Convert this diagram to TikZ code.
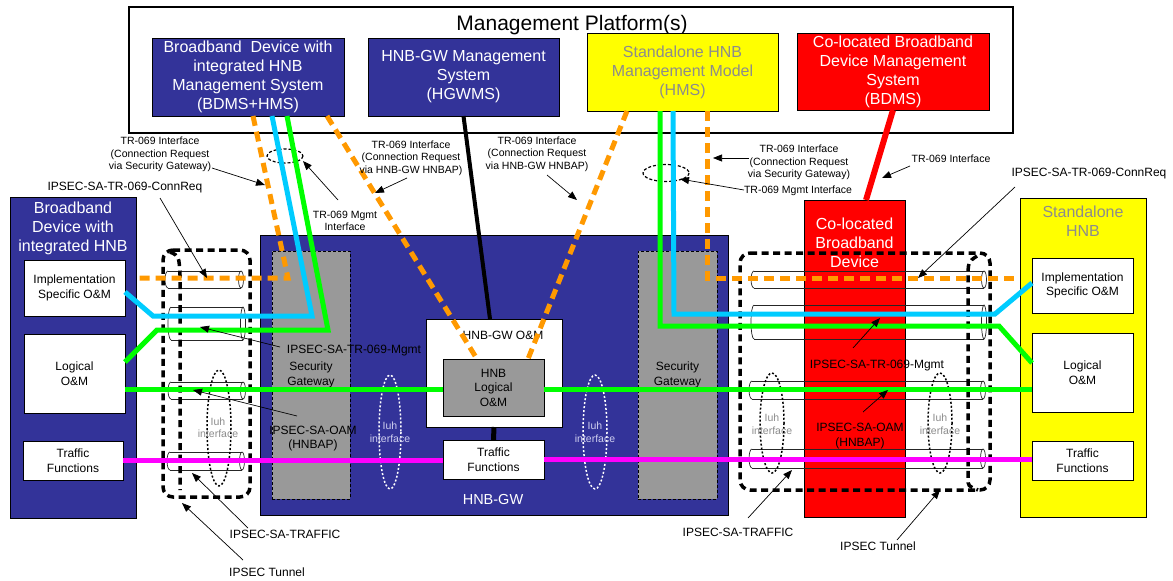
\documentclass[tikz,border=0pt]{standalone}
\usepackage{fontspec}
\setmainfont{Liberation Sans}
\usetikzlibrary{arrows.meta,calc}
\definecolor{cBl}{HTML}{333399}
\definecolor{cOr}{HTML}{FF9900}
\definecolor{cCy}{HTML}{00CCFF}
\definecolor{cGr}{HTML}{00FF00}
\definecolor{cMg}{HTML}{FF00FF}
\definecolor{cRd}{HTML}{FF0000}
\definecolor{cYe}{HTML}{FFFF00}
\definecolor{cGb}{HTML}{999999}
\definecolor{cGt}{HTML}{8C8C8C}
\definecolor{cIw}{HTML}{D0D0F0}
\newcommand{\mytube}[4]{%
  \draw[tubeln] (#1+3,#3-#4) -- (#2,#3-#4) (#1+3,#3+#4) -- (#2,#3+#4);
  \draw[tubeln] (#1+3,#3-#4) arc[start angle=270,end angle=90,x radius=3,y radius=#4];
  \draw[tubeln] (#2,#3) ellipse (2.5 and #4);}
\begin{document}
\begin{tikzpicture}[x=1pt,y=-1pt,
  bx/.style={draw=black, line width=0.8pt, inner sep=0pt, outer sep=0pt, align=center},
  fttl/.style={font=\fontsize{21}{25}\selectfont},
  fbig/.style={font=\fontsize{16}{19}\selectfont},
  fmid/.style={font=\fontsize{12}{14.5}\selectfont},
  fhg/.style={font=\fontsize{14.5}{17}\selectfont},
  fsm/.style={font=\fontsize{10.5}{12.5}\selectfont},
  lbl/.style={inner sep=0pt, align=center},
  ann/.style={draw=black, line width=0.7pt, -{Triangle[length=9pt,width=7pt]}},
  odash/.style={draw=cOr, line width=5pt, dash pattern=on 10pt off 6pt},
  cline/.style={draw=cCy, line width=5pt},
  gline/.style={draw=cGr, line width=5pt},
  mline/.style={draw=cMg, line width=5pt},
  tun/.style={draw=black, line width=3.5pt, dash pattern=on 7pt off 4.5pt},
  tubeln/.style={draw=black!85, line width=0.7pt},
  iuhd/.style={draw=black, line width=1.5pt, dash pattern=on 2pt off 2pt},
  iuhw/.style={draw=white, line width=1.5pt, dash pattern=on 2pt off 2pt},
  tinyel/.style={draw=black, line width=1.2pt, dash pattern=on 3pt off 2pt},
]
\useasboundingbox (0,0) rectangle (1173,581);
\fill[white] (0,0) rectangle (1173,581);

% Management platform
\node[bx, line width=2pt, minimum width=884pt, minimum height=126pt] (mgmt) at (571,70) {};
\node[lbl, fttl] (mtitle) at (572,25) {Management Platform(s)};
\node[bx, fill=cBl, text=white, fbig, minimum width=192pt, minimum height=78pt] (bdmshms) at (248,77)
  {Broadband~ Device with\\integrated HNB\\Management System\\(BDMS+HMS)};
\node[bx, fill=cBl, text=white, fbig, minimum width=191pt, minimum height=78pt] (hgwms) at (463.5,77)
  {HNB-GW Management\\System\\(HGWMS)};
\node[bx, fill=cYe, text=cGt, fbig, minimum width=191pt, minimum height=78pt] (hms) at (682.5,72)
  {Standalone HNB\\Management Model\\(HMS)};
\node[bx, fill=cRd, text=white, fbig, minimum width=192pt, minimum height=77pt] (bdms) at (893,71.5)
  {Co-located Broadband\\Device Management\\System\\(BDMS)};

% Left device
\node[bx, fill=cBl, minimum width=126pt, minimum height=321pt] (leftdev) at (73,357.5) {};
\node[lbl, fbig, text=white] (leftdevt) at (73,228) {Broadband\\Device with\\integrated HNB};
\node[bx, fill=white, fmid, minimum width=101pt, minimum height=56pt] (implL) at (74.5,288) {Implementation\\Specific O\&M};
\node[bx, fill=white, fmid, minimum width=101pt, minimum height=79pt] (logL) at (74.5,373.5) {Logical\\O\&M};
\node[bx, fill=white, fmid, minimum width=100pt, minimum height=39pt] (trafL) at (73,460.5) {Traffic\\Functions};

% HNB-GW
\node[bx, fill=cBl, minimum width=468pt, minimum height=280pt] (hnbgw) at (494,375) {};
\node[lbl, fhg, text=white] (hnbgwt) at (493,500) {HNB-GW};
\node[bx, fill=cGb, densely dashed, line width=0.6pt, fmid, minimum width=78pt, minimum height=248pt] (sgL) at (311,375) {Security\\Gateway};
\node[bx, fill=cGb, densely dashed, line width=0.6pt, fmid, minimum width=79pt, minimum height=248pt] (sgR) at (677.5,375) {Security\\Gateway};
\node[bx, fill=white, minimum width=136pt, minimum height=108pt] (hnbgwom) at (494,373) {};
\node[lbl, fmid] (hnbgwomt) at (503,335) {HNB-GW O\&M};
\node[bx, fill=cGb, fmid, minimum width=101pt, minimum height=57pt] (hnblog) at (493.5,387.5) {HNB\\Logical\\O\&M};
\node[bx, fill=white, fmid, minimum width=101pt, minimum height=39pt] (trafM) at (493.5,459.5) {Traffic\\Functions};

% Co-located broadband device
\node[bx, fill=cRd, minimum width=101pt, minimum height=317pt] (codev) at (854.5,358.5) {};
\node[lbl, fbig, text=white] (codevt) at (854.5,243) {Co-located\\Broadband\\Device};

% Standalone HNB
\node[bx, fill=cYe, minimum width=126pt, minimum height=319pt] (sahnb) at (1083,357.5) {};
\node[lbl, fbig, text=cGt] (sahnbt) at (1083,221.5) {Standalone\\HNB};
\node[bx, fill=white, fmid, minimum width=101pt, minimum height=55pt] (implR) at (1082.5,285.5) {Implementation\\Specific O\&M};
\node[bx, fill=white, fmid, minimum width=101pt, minimum height=79pt] (logR) at (1082.5,372.5) {Logical\\O\&M};
\node[bx, fill=white, fmid, minimum width=101pt, minimum height=39pt] (trafR) at (1082.5,460.5) {Traffic\\Functions};

% tubes (security associations)
\mytube{165}{241}{279.5}{8.5}
\mytube{168}{243}{323.5}{16.5}
\mytube{168}{243}{390.5}{8.5}
\mytube{167}{242}{461}{9}
\mytube{751}{984}{279.5}{8.5}
\mytube{751}{984}{322}{17}
\mytube{749}{983}{390}{9}
\mytube{749}{983}{458.5}{9.5}

% Iuh ellipses
\draw[iuhd] (219,428) ellipse (12 and 58);
\draw[iuhw] (390,432) ellipse (11 and 57);
\draw[iuhw] (595,432) ellipse (12 and 57);
\draw[iuhd] (772,423) ellipse (12 and 50);
\draw[iuhd] (940,423) ellipse (12 and 50);
\node[lbl, fsm, text=cGt] (iuh1) at (218,427.5) {Iuh\\interface};
\node[lbl, fsm, text=cIw] (iuh2) at (390,432) {Iuh\\interface};
\node[lbl, fsm, text=cIw] (iuh3) at (595,432) {Iuh\\interface};
\node[lbl, fsm, text=cGt] (iuh4) at (772,424) {Iuh\\interface};
\node[lbl, fsm, text=cGt] (iuh5) at (940,424) {Iuh\\interface};

% IPSEC tunnels
\draw[tun, rounded corners=10pt] (163,250) -- (250,250) -- (250,497) -- (163,497) -- cycle;
\draw[tun] (170,252) .. controls (179,256) .. (180,275) -- (180,490);
\draw[tun, rounded corners=10pt] (740,253) -- (990,253) -- (990,490) -- (740,490) -- cycle;
\draw[tun] (977,256) .. controls (968,262) .. (968,280) -- (968,478) .. controls (968,486) .. (978,490);

% tiny ellipses
\draw[tinyel] (285,156) ellipse (18 and 7);
\draw[tinyel] (666,173) ellipse (23 and 8.5);

% connectors
\coordinate (oL) at (137,278);
\coordinate (oR) at (1015,278);
\draw[odash] ([xshift=5pt]bdmshms.south) -- (288,278) -- (oL);
\draw[odash] ([xshift=79pt]bdmshms.south) -- ([xshift=-16.5pt]hnblog.north);
\draw[odash] ([xshift=-55.5pt]hms.south) -- ([xshift=34.5pt]hnblog.north);
\draw[odash] ([xshift=24.5pt]hms.south) -- (707,278) -- (oR);
\draw[cline] ([xshift=24pt]bdmshms.south) -- (312,316) -- (153,316) -- ($(implL.east)+(0,4)$);
\draw[gline] ([xshift=39pt]bdmshms.south) -- (328,330) -- (157,330) -- ($(logL.east)+(0,-11.5)$);
\draw[gline] ([xshift=-22.5pt]hms.south) -- (660,326) -- (999,326) -- ($(logR.west)+(0,-9.5)$);
\draw[cline] ([xshift=-9.5pt]hms.south) -- (674,314) -- (995,314) -- ($(implR.west)+(0,-2.5)$);
\coordinate (gL) at (125,389);
\coordinate (gR) at (1032,389);
\draw[gline] (gL) -- (hnblog.west |- gL);
\draw[gline] (hnblog.east |- gR) -- (gR);
\draw[mline] (trafL.east) -- (trafL.east -| trafM.west);
\draw[mline] (trafM.east) -- (trafM.east -| trafR.west);
\draw[line width=4pt] (hgwms.south) -- ([xshift=-4pt]hnbgwom.north);
\draw[line width=5pt] (hnbgwom.south) -- (trafM.north);
\draw[draw=cRd, line width=6pt] (bdms.south) -- ([xshift=11.5pt]codev.north);

% annotation labels
\node[lbl, fsm] (l1) at (160,154.5) {TR-069 Interface\\(Connection Request\\via Security Gateway)};
\node[lbl, fsm] (l2) at (345,221) {TR-069 Mgmt\\Interface};
\node[lbl, fsm] (l3) at (411,158) {TR-069 Interface\\(Connection Request\\via HNB-GW HNBAP)};
\node[lbl, fsm] (l4) at (537,154) {TR-069 Interface\\(Connection Request\\via HNB-GW HNBAP)};
\node[lbl, fsm] (l5) at (799,162.5) {TR-069 Interface\\(Connection Request\\via Security Gateway)};
\node[lbl, fsm] (l6) at (798,191) {TR-069 Mgmt Interface};
\node[lbl, fsm] (l7) at (951,159) {TR-069 Interface};
\node[lbl, fmid] (l8) at (125,188) {IPSEC-SA-TR-069-ConnReq};
\node[lbl, fmid] (l9) at (1089,174) {IPSEC-SA-TR-069-ConnReq};
\node[lbl, fmid] (l10) at (354,351) {IPSEC-SA-TR-069-Mgmt};
\node[lbl, fmid] (l11) at (313,438.5) {IPSEC-SA-OAM\\(HNBAP)};
\node[lbl, fmid] (l12) at (285,534) {IPSEC-SA-TRAFFIC};
\node[lbl, fmid] (l13) at (267,572) {IPSEC Tunnel};
\node[lbl, fmid] (l14) at (877,366) {IPSEC-SA-TR-069-Mgmt};
\node[lbl, fmid] (l15) at (860,436) {IPSEC-SA-OAM\\(HNBAP)};
\node[lbl, fmid] (l16) at (738,532) {IPSEC-SA-TRAFFIC};
\node[lbl, fmid] (l17) at (878,546) {IPSEC Tunnel};

% annotation arrows
\coordinate (a1s) at (212,168);  \coordinate (a1e) at (265,185);
\coordinate (a2s) at (338,200);  \coordinate (a2e) at (303,161);
\coordinate (a3s) at (407,178);  \coordinate (a3e) at (375,193);
\coordinate (a4s) at (547,175);  \coordinate (a4e) at (577,200);
\coordinate (a5s) at (749,158);  \coordinate (a5e) at (713,158);
\coordinate (a6s) at (744,190);  \coordinate (a6e) at (680,179);
\coordinate (a7s) at (910,166);  \coordinate (a7e) at (882,178);
\coordinate (a8s) at (160,198);  \coordinate (a8e) at (207,278);
\coordinate (a9s) at (1015,187); \coordinate (a9e) at (918,278);
\coordinate (a10s) at (280,347); \coordinate (a10e) at (200,327);
\coordinate (a11s) at (297,416); \coordinate (a11e) at (193,390);
\coordinate (a12s) at (248,528); \coordinate (a12e) at (192,473);
\coordinate (a13s) at (243,560); \coordinate (a13e) at (182,503);
\coordinate (a14s) at (853,348); \coordinate (a14e) at (880,318);
\coordinate (a15s) at (863,412); \coordinate (a15e) at (888,390);
\coordinate (a16s) at (748,518); \coordinate (a16e) at (792,470);
\coordinate (a17s) at (897,540); \coordinate (a17e) at (940,490);
\foreach \i in {1,...,17} {\draw[ann] (a\i s) -- (a\i e);}
\end{tikzpicture}
\end{document}
